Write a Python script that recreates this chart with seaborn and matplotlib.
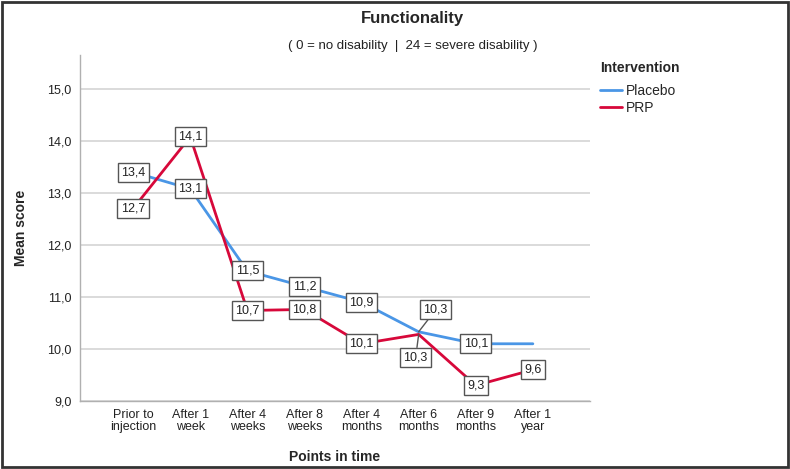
import matplotlib
matplotlib.use("Agg")
import matplotlib.pyplot as plt
import seaborn as sns
import pandas as pd
from matplotlib.patches import Rectangle

time_points = ["Prior to\ninjection", "After 1\nweek", "After 4\nweeks", "After 8\nweeks",
               "After 4\nmonths", "After 6\nmonths", "After 9\nmonths", "After 1\nyear"]
placebo = [13.4, 13.08, 11.5, 11.2, 10.9, 10.33, 10.1, 10.1]
prp = [12.7, 14.08, 10.74, 10.76, 10.1, 10.28, 9.3, 9.6]
groups = ["Placebo", "PRP"]
yticks = [9, 10, 11, 12, 13, 14, 15]

rows = []
for i, (a, b) in enumerate(zip(placebo, prp)):
    rows.append({"t": i, "Mean score": a, "Intervention": "Placebo"})
    rows.append({"t": i, "Mean score": b, "Intervention": "PRP"})
df = pd.DataFrame(rows)

sns.set_style("white")
plt.rcParams['font.family'] = ['Liberation Sans', 'DejaVu Sans']

fig = plt.figure(figsize=(7.9, 4.69), dpi=100)
ax = fig.add_axes([0.1013, 0.145, 0.6455, 0.7375])
palette = {"Placebo": "#4A96E6", "PRP": "#D7083A"}
sns.lineplot(data=df, x="t", y="Mean score", hue="Intervention", palette=palette,
             linewidth=2, ax=ax, legend=True)

ax.set_xlim(-0.93, 8.0)
ax.set_ylim(9.0, 15.65)
ax.set_yticks(yticks)
ax.set_yticklabels([f"{v:.1f}".replace(".", ",") for v in yticks], fontsize=9, color="#222222")
ax.set_xticks(range(len(time_points)))
ax.set_xticklabels(time_points, fontsize=9, color="#222222", linespacing=1.0)
ax.tick_params(axis="both", length=0, pad=6)
ax.yaxis.grid(True, color="#d4d4d4", linewidth=1.2)
ax.set_axisbelow(True)
for s in ["top", "right"]:
    ax.spines[s].set_visible(False)
for s in ["left", "bottom"]:
    ax.spines[s].set_color("#b0b0b0")
    ax.spines[s].set_linewidth(1.0)
ax.set_xlabel("Points in time", fontsize=10, fontweight="bold", labelpad=12)
ax.set_ylabel("Mean score", fontsize=10, fontweight="bold", labelpad=14)

box = dict(boxstyle="square,pad=0.28", fc="white", ec="#555555", lw=1.0)

def lab(v):
    return f"{v:.1f}".replace(".", ",")

for i in range(len(time_points)):
    for series, name in ((placebo, "Placebo"), (prp, "PRP")):
        if name == "Placebo" and i == 7:
            continue
        v = series[i]
        if i == 5:
            dy = 22 if name == "Placebo" else -23
            dx = 17 if name == "Placebo" else -3
            ax.annotate(lab(v), xy=(i, v), xytext=(dx, dy), textcoords="offset pixels",
                        ha="center", va="center", fontsize=9, color="#222222", bbox=box,
                        arrowprops=dict(arrowstyle="-", color="#555555", lw=1.0,
                                        shrinkA=0, shrinkB=0), zorder=5)
        else:
            ax.text(i, v, lab(v), ha="center", va="center", fontsize=9,
                    color="#222222", bbox=box, zorder=5)

leg = ax.legend(title="Intervention", loc="upper left", bbox_to_anchor=(1.0, 1.01),
                frameon=False, fontsize=10, title_fontproperties={"weight": "bold", "size": 10},
                handlelength=1.6, handletextpad=0.3, labelspacing=0.25, borderaxespad=0.3)
leg._legend_box.align = "left"
leg._legend_box.sep = 6

fig.text(0.522, 0.96, "Functionality", ha="center", va="center", fontsize=12, fontweight="bold")
fig.text(0.522, 0.902, "( 0 = no disability  |  24 = severe disability )", ha="center",
         va="center", fontsize=9.5, color="#222222")

fig.patches.append(Rectangle((0.002, 0.004), 0.996, 0.992, transform=fig.transFigure,
                             fill=False, ec="#333333", lw=2))

fig.savefig("out.png", dpi=100)
